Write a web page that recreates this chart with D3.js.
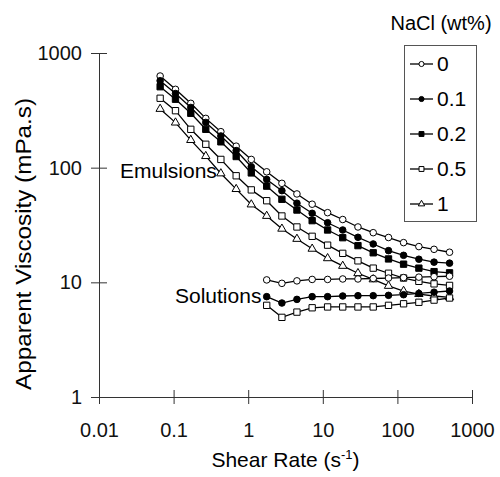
<!DOCTYPE html>
<html>
<head>
<meta charset="utf-8">
<script src="https://cdn.jsdelivr.net/npm/d3@7"></script>
<style>
  body { margin: 0; background: #fff; }
  svg { font-family: "Liberation Sans", Arial, sans-serif; }
  .axis path, .axis line { stroke: #333; stroke-width: 1; }
  .axis text { font-size: 20px; fill: #111; font-family: "Liberation Sans", Arial, sans-serif; }
</style>
</head>
<body>
<div id="chart"></div>
<script>
// Shear rates (s^-1) of the log sweep
const shearRate = [0.066, 0.106, 0.17, 0.27, 0.43, 0.69, 1.1, 1.77, 2.83, 4.5,
                   7.2, 11.6, 18.5, 29.6, 47.4, 76, 121, 194, 310, 500];

// Emulsions, apparent viscosity (mPa.s) for each NaCl level
const emulsion0  = [630, 482, 364, 269, 206, 154, 118, 92, 73, 59, 48, 40.5, 35.3, 30.4, 27.1, 24.6, 22.2, 20.5, 19.4, 18.3];
const emulsion01 = [573, 443, 335, 248, 189, 141, 102, 79, 63, 49, 40, 33.1, 28.6, 24.7, 21.6, 18.9, 17.2, 15.9, 15.0, 14.7];
const emulsion02 = [508, 395, 298, 216, 168, 125, 90, 69, 53, 42.7, 34.5, 28.6, 24.5, 20.9, 18.1, 16.0, 14.4, 13.3, 12.4, 12.1];
const emulsion05 = [403, 314, 216, 160, 118, 85, 64, 51.5, 37.9, 30.4, 25.2, 21.1, 17.9, 15.4, 13.3, 12.0, 10.9, 10.2, 9.7, 9.4];
const emulsion1  = [325, 247, 174, 126, 89, 65, 47.7, 37.9, 29.3, 23.9, 19.6, 16.2, 13.9, 12.0, 10.6, 9.3, 8.4, 7.9, 7.6, 7.4];

// Solutions start at the 8th shear rate (1.77 s^-1)
const solutionStart = 7;
const solution0  = [10.5, 9.8, 10.3, 10.6, 10.6, 10.7, 10.7, 10.8, 10.9, 11.0, 11.1, 11.2, 11.3];
const solution01 = [7.5, 6.6, 7.1, 7.5, 7.5, 7.6, 7.65, 7.65, 7.7, 7.8, 8.0, 8.2, 8.4];
const solution05 = [6.3, 4.95, 5.5, 6.0, 6.1, 6.1, 6.1, 6.1, 6.3, 6.5, 6.7, 7.0, 7.3];

const legendLabels = ['0', '0.1', '0.2', '0.5', '1'];
const xTicks = [0.01, 0.1, 1, 10, 100, 1000];
const yTicks = [1, 10, 100, 1000];

// Marker style per NaCl level
const markers = {
    '0':   { symbol: d3.symbolCircle,   fill: '#fff', size: 34 },
    '0.1': { symbol: d3.symbolCircle,   fill: '#000', size: 34 },
    '0.2': { symbol: d3.symbolSquare,   fill: '#000', size: 40 },
    '0.5': { symbol: d3.symbolSquare,   fill: '#fff', size: 40 },
    '1':   { symbol: d3.symbolTriangle, fill: '#fff', size: 30 }
};

const series = [
    { key: '0',   x: shearRate, y: emulsion0 },
    { key: '0.1', x: shearRate, y: emulsion01 },
    { key: '0.2', x: shearRate, y: emulsion02 },
    { key: '0.5', x: shearRate, y: emulsion05 },
    { key: '1',   x: shearRate, y: emulsion1 },
    { key: '0',   x: shearRate.slice(solutionStart), y: solution0 },
    { key: '0.1', x: shearRate.slice(solutionStart), y: solution01 },
    { key: '0.5', x: shearRate.slice(solutionStart), y: solution05 }
];

const width = 500, height = 477;
const svg = d3.select('#chart').append('svg')
    .attr('width', width)
    .attr('height', height);

const x = d3.scaleLog().domain([0.01, 1000]).range([99, 472]);
const y = d3.scaleLog().domain([1, 1000]).range([397, 53]);

// Axes with ticks crossing the axis line
const xAxis = svg.append('g')
    .attr('class', 'axis')
    .attr('transform', `translate(0,${y(1)})`)
    .call(d3.axisBottom(x).tickValues(xTicks).tickFormat(d3.format('~g'))
        .tickSizeOuter(0).tickSizeInner(7).tickPadding(19));
xAxis.selectAll('.tick line').attr('y1', -7);

const yAxis = svg.append('g')
    .attr('class', 'axis')
    .attr('transform', `translate(${x(0.01)},0)`)
    .call(d3.axisLeft(y).tickValues(yTicks).tickFormat(d3.format('~g'))
        .tickSizeOuter(0).tickSizeInner(8).tickPadding(9));
yAxis.selectAll('.tick line').attr('x1', 8);

// Axis titles
const xTitle = svg.append('text')
    .attr('x', (x.range()[0] + x.range()[1]) / 2)
    .attr('y', 467)
    .attr('text-anchor', 'middle')
    .style('font-size', '21px');
xTitle.append('tspan').text('Shear Rate (s');
xTitle.append('tspan').attr('dy', -8).style('font-size', '13px').text('-1');
xTitle.append('tspan').attr('dy', 8).text(')');

svg.append('text')
    .attr('transform', `translate(31,244) rotate(-90)`)
    .attr('text-anchor', 'middle')
    .attr('textLength', 292)
    .attr('lengthAdjust', 'spacingAndGlyphs')
    .style('font-size', '22px')
    .text('Apparent Viscosity (mPa.s)');

// Lines and markers
const line = d3.line()
    .x(d => x(d[0]))
    .y(d => y(d[1]));

series.forEach(s => {
    const pts = s.x.map((v, i) => [v, s.y[i]]);
    const m = markers[s.key];
    svg.append('path')
        .datum(pts)
        .attr('d', line)
        .attr('fill', 'none')
        .attr('stroke', '#000')
        .attr('stroke-width', 1.3);
    svg.append('g')
        .selectAll('path')
        .data(pts)
        .join('path')
        .attr('transform', d => `translate(${x(d[0])},${y(d[1])})`)
        .attr('d', d3.symbol(m.symbol, m.size))
        .attr('fill', m.fill)
        .attr('stroke', '#000')
        .attr('stroke-width', 1);
});

// In-plot labels
svg.append('text').attr('x', 120).attr('y', 178)
    .style('font-size', '21px').text('Emulsions');
svg.append('text').attr('x', 175).attr('y', 303)
    .style('font-size', '21px').text('Solutions');

// Legend
svg.append('text')
    .attr('x', 441).attr('y', 30)
    .attr('text-anchor', 'middle')
    .style('font-size', '20px')
    .text('NaCl (wt%)');

svg.append('rect')
    .attr('x', 404.5).attr('y', 45.5)
    .attr('width', 72).attr('height', 176)
    .attr('fill', '#fff')
    .attr('stroke', '#555');

const legendRow = svg.append('g')
    .selectAll('g')
    .data(legendLabels)
    .join('g')
    .attr('transform', (d, i) => `translate(0,${64 + i * 35})`);

legendRow.append('line')
    .attr('x1', 410).attr('x2', 433)
    .attr('stroke', '#000').attr('stroke-width', 1.3);
legendRow.append('path')
    .attr('transform', 'translate(421.5,0)')
    .attr('d', d => d3.symbol(markers[d].symbol, markers[d].size * 0.6)())
    .attr('fill', d => markers[d].fill)
    .attr('stroke', '#000');
legendRow.append('text')
    .attr('x', 437).attr('dy', '0.35em')
    .style('font-size', '21px')
    .text(d => d);
</script>
</body>
</html>
